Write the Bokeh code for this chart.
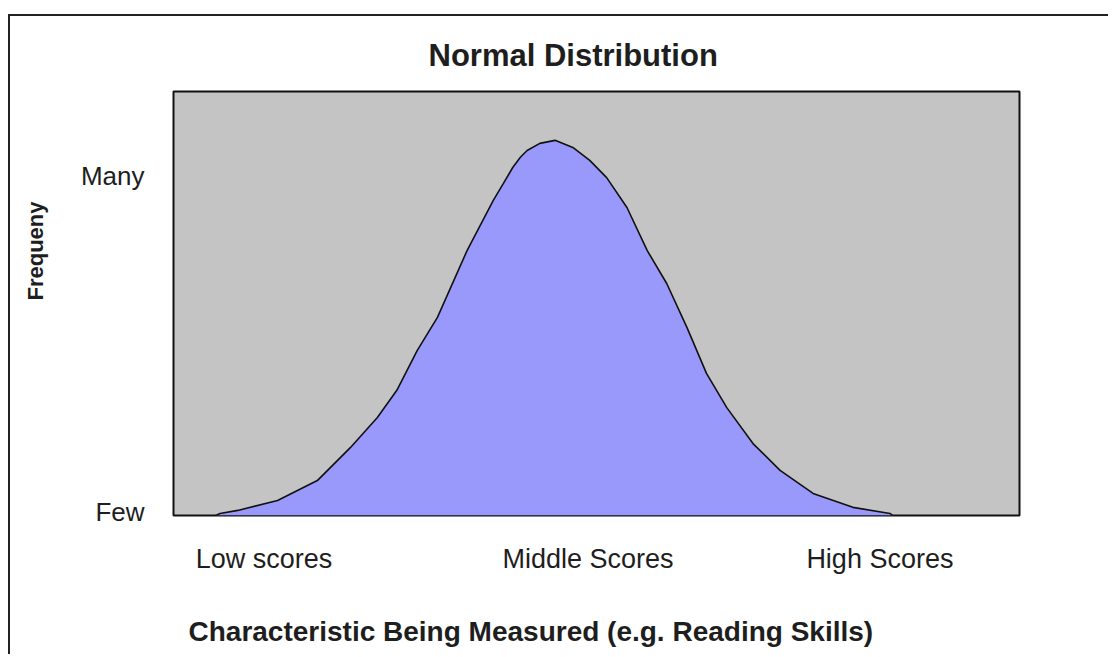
from bokeh.plotting import figure
from bokeh.models import Range1d, FixedTicker, Title
from bokeh.embed import file_html
from bokeh.resources import INLINE

# ---- data ----
score_x = [0.50, 0.55, 0.76, 1.23, 1.70, 2.09, 2.41, 2.64, 2.88, 3.12, 3.47, 3.78,
           3.90, 4.01, 4.10, 4.18, 4.33, 4.51, 4.72, 4.92, 5.12, 5.36, 5.60, 5.83,
           6.07, 6.30, 6.54, 6.85, 7.17, 7.56, 8.03, 8.47, 8.50]
freq_y = [0.0, 0.006, 0.015, 0.044, 0.103, 0.200, 0.289, 0.369, 0.486, 0.584, 0.781, 0.929,
          0.979, 1.026, 1.056, 1.076, 1.097, 1.106, 1.085, 1.047, 0.996, 0.908, 0.781, 0.684,
          0.554, 0.419, 0.318, 0.212, 0.133, 0.065, 0.024, 0.006, 0.0]

x_tick_pos = [1.07, 4.90, 8.35]
x_tick_labels = ["Low scores", "Middle Scores", "High Scores"]
y_tick_pos = [0.01, 1.0]
y_tick_labels = ["Few", "Many"]

chart_title = "Normal Distribution"
x_title = "Characteristic Being Measured (e.g. Reading Skills)"
y_title = "Frequeny"

FONT = "Liberation Sans"
TXT = "#1e1e1e"

p = figure(width=1100, height=640, output_backend="svg", toolbar_location=None,
           x_range=Range1d(0, 10), y_range=Range1d(0, 1.25),
           min_border_left=163, min_border_right=91, min_border_top=75,
           min_border_bottom=141, margin=(14, 0, 0, 8))
p.styles = {"border-top": "2px solid #222", "border-left": "2px solid #222"}

p.background_fill_color = "#c4c4c4"
p.border_fill_color = "white"
p.outline_line_color = "#111111"
p.outline_line_width = 2
p.grid.visible = False

p.varea(x=score_x, y1=0, y2=freq_y, fill_color="#9999fc", fill_alpha=1.0)
p.line(x=score_x, y=freq_y, line_color="#111111", line_width=1.6)

# title
p.title.text = chart_title
p.title.align = "left"
p.title.offset = 255
p.title.text_font = FONT
p.title.text_font_size = "31px"
p.title.text_font_style = "bold"
p.title.text_color = TXT
p.title.standoff = 38


def style_axis(ax, size, standoff):
    ax.axis_line_color = None
    ax.major_tick_line_color = None
    ax.minor_tick_line_color = None
    ax.major_tick_out = 0
    ax.major_tick_in = 0
    ax.minor_tick_out = 0
    ax.minor_tick_in = 0
    ax.major_label_standoff = standoff
    ax.major_label_text_font = FONT
    ax.major_label_text_font_size = size
    ax.major_label_text_color = TXT


# x axis
xa = p.xaxis[0]
xa.ticker = FixedTicker(ticks=x_tick_pos)
xa.major_label_overrides = {k: v for k, v in zip(x_tick_pos, x_tick_labels)}
style_axis(xa, "27px", 28)

# y axis
ya = p.yaxis[0]
ya.ticker = FixedTicker(ticks=y_tick_pos)
ya.major_label_overrides = {k: v for k, v in zip(y_tick_pos, y_tick_labels)}
style_axis(ya, "26px", 29)

# axis titles (a blank line keeps each one at the reference's distance)
xt = Title(text="\n" + x_title, align="left", offset=15,
           text_font=FONT, text_font_size="28px", text_font_style="bold",
           text_color=TXT, standoff=12)
p.add_layout(xt, "below")

yt = Title(text=y_title + "\n", align="left", offset=215,
           text_font=FONT, text_font_size="22px", text_font_style="bold",
           text_color=TXT, standoff=10)
p.add_layout(yt, "left")

open("out.html", "w").write(file_html(p, INLINE))
